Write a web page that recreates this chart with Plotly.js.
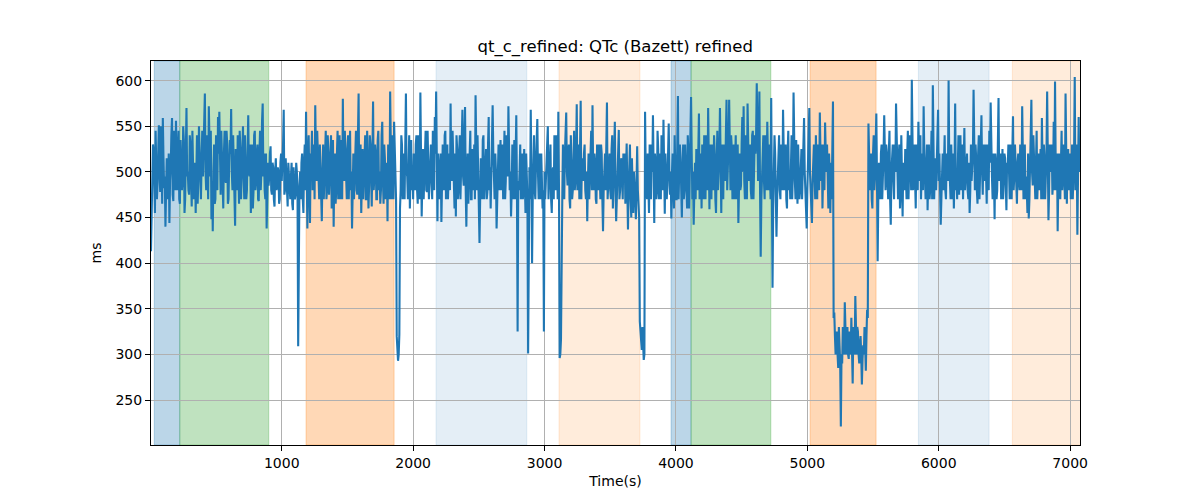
<!DOCTYPE html>
<html>
<head>
<meta charset="utf-8">
<script src="https://cdn.plot.ly/plotly-3.0.1.min.js"></script>
<style>
  html, body { margin: 0; padding: 0; background: #fff; }
  #chart { width: 1200px; height: 500px; }
</style>
</head>
<body>
<div id="chart"></div>
<script>
// sampling: main readings every 10 s from t = 5 s, plus in-between readings 5 s later
const t0 = 5;
const dt = 10;

// QTc (ms), main readings, 200 s rows
const qtc_0000_1995 = [
  413, 505, 525, 455, 520, 488, 551, 478, 532, 559, 482, 440, 515, 470, 444, 505, 559, 468, 520, 556,
  480, 545, 465, 510, 490, 535, 470, 570, 500, 475, 530, 462, 520, 485, 455, 540, 490, 525, 470, 545,
  520, 586, 480, 510, 572, 495, 448, 435, 530, 470, 505, 560, 566, 475, 520, 460, 545, 488, 530, 470,
  535, 569, 480, 515, 441, 500, 540, 465, 525, 490, 550, 470, 515, 480, 562, 495, 455, 530, 478, 545,
  490, 530, 468, 545, 500, 575, 520, 470, 438, 510, 495, 528, 475, 505, 462, 515, 485, 500, 470, 520,
  505, 568, 480, 500, 462, 495, 470, 510, 458, 490, 475, 500, 309, 485, 470, 520, 455, 530, 566, 438,
  540, 444, 510, 480, 530, 573, 490, 520, 470, 505, 446, 530, 495, 545, 480, 520, 500, 540, 470, 440,
  520, 480, 545, 500, 470, 535, 580, 490, 515, 470, 540, 505, 480, 438, 520, 490, 545, 475, 586, 500,
  455, 525, 490, 540, 470, 510, 485, 530, 462, 577, 495, 520, 470, 545, 500, 480, 555, 465, 515, 490,
  446, 510, 588, 470, 500, 555, 480, 320, 293, 322, 480, 530, 500, 470, 586, 495, 520, 460, 535, 505
];

const qtc_2005_3995 = [
  520, 480, 540, 465, 510, 587, 451, 525, 495, 545, 478, 515, 490, 530, 470, 520, 560, 588, 446, 505,
  500, 445, 530, 480, 545, 505, 470, 520, 575, 490, 515, 460, 451, 525, 480, 540, 500, 568, 485, 571,
  440, 520, 490, 545, 470, 510, 530, 584, 480, 500, 422, 515, 470, 540, 495, 525, 478, 560, 505, 490,
  573, 490, 520, 438, 510, 480, 535, 500, 470, 545, 490, 515, 572, 480, 451, 530, 500, 470, 562, 325,
  480, 530, 500, 470, 525, 455, 490, 301, 505, 568, 400, 520, 480, 510, 558, 470, 495, 520, 460, 325,
  470, 515, 550, 490, 530, 455, 505, 540, 480, 520, 566, 296, 316, 470, 500, 520, 565, 485, 530, 460,
  510, 480, 545, 490, 574, 500, 470, 578, 515, 490, 530, 470, 446, 520, 495, 545, 573, 480, 510, 465,
  500, 530, 470, 520, 435, 510, 480, 576, 495, 520, 470, 540, 490, 555, 446, 505, 546, 480, 515, 470,
  490, 465, 531, 437, 500, 470, 515, 455, 490, 448, 528, 470, 336, 310, 330, 294, 566, 480, 520, 455,
  500, 530, 562, 444, 510, 480, 525, 490, 470, 515, 557, 454, 500, 485, 553, 475, 449, 520, 460, 500
];

const qtc_4005_5995 = [
  470, 583, 490, 515, 450, 530, 480, 505, 460, 520, 490, 582, 470, 442, 510, 525, 480, 564, 495, 460,
  505, 540, 470, 515, 570, 459, 500, 530, 480, 520, 455, 545, 495, 570, 455, 510, 530, 490, 579, 500,
  579, 480, 525, 500, 470, 540, 495, 444, 520, 485, 560, 572, 470, 510, 575, 490, 530, 470, 545, 505,
  520, 597, 490, 588, 407, 500, 540, 470, 520, 555, 480, 510, 581, 373, 490, 520, 429, 500, 540, 470,
  510, 568, 480, 530, 460, 545, 500, 520, 470, 587, 490, 535, 465, 510, 480, 525, 500, 559, 485, 438,
  505, 570, 480, 444, 520, 495, 540, 470, 515, 565, 490, 460, 530, 554, 500, 480, 520, 455, 470, 577,
  346, 300, 325, 285, 310, 221, 290, 320, 357, 300, 330, 295, 315, 340, 268, 310, 364, 300, 325, 290,
  320, 267, 310, 330, 282, 349, 553, 480, 520, 460, 540, 495, 564, 402, 510, 470, 530, 490, 562, 480,
  520, 470, 545, 442, 510, 490, 530, 575, 480, 515, 460, 540, 451, 500, 525, 470, 545, 495, 520, 601,
  480, 530, 460, 510, 555, 490, 470, 520, 572, 485, 505, 458, 530, 480, 545, 595, 470, 515, 500, 568
];

const qtc_6005_7075 = [
  520, 442, 505, 480, 540, 470, 515, 600, 490, 530, 470, 460, 575, 495, 520, 475, 540, 500, 470, 548,
  490, 520, 470, 455, 530, 500, 590, 480, 515, 465, 540, 495, 562, 475, 510, 530, 465, 500, 545, 576,
  495, 520, 448, 510, 480, 581, 500, 470, 525, 490, 515, 458, 505, 480, 530, 470, 561, 495, 510, 465,
  520, 480, 505, 572, 470, 530, 495, 455, 449, 510, 579, 485, 520, 470, 545, 500, 480, 525, 559, 470,
  515, 490, 588, 447, 530, 500, 475, 555, 599, 480, 435, 520, 470, 545, 495, 510, 586, 465, 525, 485,
  470, 530, 490, 604, 500, 431, 560, 520
];

// QTc (ms), in-between readings (t = 10, 20, ... 7070 s), 200 s rows
const mid_0010_2000 = [
  470, 530, 490, 545, 470, 525, 500, 550, 465, 515, 495, 480, 500, 520, 490, 540, 475, 545, 480, 500,
  520, 470, 535, 480, 550, 455, 530, 495, 480, 540, 490, 545, 470, 510, 530, 465, 550, 480, 510, 495,
  550, 500, 540, 470, 520, 545, 490, 500, 465, 540, 480, 520, 500, 545, 470, 520, 495, 545, 465, 510,
  520, 500, 540, 470, 525, 480, 500, 545, 470, 530, 495, 540, 470, 545, 500, 530, 490, 460, 540, 480,
  520, 470, 520, 480, 555, 495, 480, 520, 470, 485, 520, 480, 510, 470, 500, 480, 505, 465, 510, 490,
  530, 475, 515, 470, 510, 480, 495, 465, 505, 470, 510, 480, 470, 500, 510, 470, 510, 480, 500, 520,
  480, 520, 545, 500, 470, 520, 545, 470, 530, 485, 500, 470, 540, 470, 540, 475, 520, 460, 535, 500,
  465, 520, 470, 540, 510, 470, 500, 545, 480, 525, 470, 545, 500, 490, 470, 530, 480, 540, 470, 530,
  500, 470, 530, 470, 545, 460, 540, 475, 520, 480, 530, 470, 535, 480, 465, 540, 490, 530, 470, 510,
  530, 470, 500, 540, 470, 520, 470, 305, 300, 460, 540, 470, 520, 540, 500, 470, 540, 500, 480, 470
];

const mid_2010_4000 = [
  500, 530, 480, 540, 470, 505, 490, 470, 530, 480, 545, 470, 510, 490, 545, 480, 520, 480, 520, 470,
  520, 480, 500, 540, 470, 530, 495, 480, 500, 545, 480, 520, 540, 470, 520, 470, 520, 495, 530, 480,
  495, 465, 530, 470, 525, 480, 470, 500, 540, 480, 470, 500, 535, 470, 520, 470, 530, 480, 460, 530,
  520, 470, 500, 470, 530, 500, 480, 530, 510, 470, 540, 495, 520, 500, 480, 470, 535, 520, 480, 490,
  500, 470, 520, 480, 500, 520, 470, 480, 470, 500, 470, 540, 470, 530, 500, 520, 470, 480, 480, 500,
  490, 540, 470, 520, 470, 500, 470, 510, 540, 470, 480, 300, 460, 530, 470, 545, 500, 520, 470, 540,
  470, 530, 480, 520, 480, 530, 510, 470, 500, 520, 480, 500, 490, 470, 540, 480, 500, 520, 470, 530,
  480, 500, 530, 470, 480, 520, 540, 470, 520, 480, 525, 460, 520, 480, 470, 530, 470, 510, 490, 520,
  520, 500, 480, 480, 530, 450, 490, 500, 470, 490, 480, 450, 320, 305, 315, 300, 500, 470, 490, 530,
  470, 500, 480, 520, 470, 545, 470, 520, 540, 480, 500, 520, 470, 530, 500, 500, 500, 480, 540, 470
];

const mid_4010_6000 = [
  520, 470, 530, 480, 500, 470, 530, 480, 540, 460, 530, 520, 500, 480, 470, 500, 520, 470, 520, 530,
  470, 500, 540, 480, 500, 530, 470, 510, 540, 470, 510, 480, 520, 480, 530, 470, 500, 540, 480, 530,
  520, 540, 470, 530, 510, 470, 530, 500, 480, 530, 500, 490, 540, 470, 500, 520, 480, 540, 470, 540,
  540, 520, 530, 480, 470, 520, 490, 540, 480, 510, 530, 470, 500, 460, 540, 480, 470, 520, 480, 530,
  480, 530, 500, 470, 520, 480, 470, 540, 500, 520, 470, 500, 530, 470, 520, 470, 530, 500, 470, 480,
  540, 500, 470, 490, 530, 470, 500, 530, 480, 520, 530, 500, 480, 520, 530, 460, 500, 510, 530, 340,
  320, 310, 300, 330, 290, 300, 330, 300, 330, 310, 300, 325, 300, 310, 330, 300, 320, 330, 300, 310,
  300, 295, 300, 310, 320, 340, 520, 500, 470, 520, 480, 530, 490, 470, 490, 520, 470, 520, 500, 530,
  490, 520, 470, 500, 530, 470, 500, 520, 470, 530, 480, 500, 510, 480, 470, 520, 470, 540, 480, 510,
  510, 490, 530, 480, 500, 540, 500, 480, 520, 470, 530, 490, 470, 510, 470, 530, 500, 480, 540, 490
];

const mid_6010_7070 = [
  490, 470, 520, 500, 480, 520, 490, 510, 470, 500, 520, 500, 480, 470, 540, 500, 480, 530, 510, 480,
  510, 480, 510, 480, 490, 520, 490, 530, 480, 520, 470, 520, 500, 530, 490, 470, 530, 480, 510, 500,
  470, 500, 520, 470, 530, 490, 520, 480, 470, 520, 480, 510, 530, 470, 500, 520, 480, 530, 480, 510,
  490, 530, 480, 500, 520, 470, 480, 520, 470, 530, 500, 540, 480, 510, 470, 520, 500, 470, 510, 530,
  470, 520, 500, 480, 510, 530, 490, 480, 510, 520, 490, 480, 510, 480, 530, 470, 500, 520, 480, 520,
  500, 470, 520, 480, 530, 490, 500
];

// annotated segments [start, end] in seconds, with their fill
const segStart = [30, 224, 1185, 2174, 3110, 3963, 4115, 5021, 5845, 6560];
const segEnd   = [224, 901, 1855, 2865, 3726, 4115, 4722, 5523, 6383, 7100];
const segColor = [
  'rgba(31,119,180,0.3)', 'rgba(44,160,44,0.3)', 'rgba(255,127,14,0.3)',
  'rgba(31,119,180,0.12)', 'rgba(255,127,14,0.15)',
  'rgba(31,119,180,0.3)', 'rgba(44,160,44,0.3)', 'rgba(255,127,14,0.3)',
  'rgba(31,119,180,0.12)', 'rgba(255,127,14,0.15)'
];

const xTicks = [1000, 2000, 3000, 4000, 5000, 6000, 7000];
const yTicks = [250, 300, 350, 400, 450, 500, 550, 600];

const qtcMain = qtc_0000_1995.concat(qtc_2005_3995, qtc_4005_5995, qtc_6005_7075);
const qtcMid = mid_0010_2000.concat(mid_2010_4000, mid_4010_6000, mid_6010_7070);

// merge both sets of readings in time order
const time = [];
const qtc = [];
qtcMain.forEach((v, i) => {
  time.push(t0 + i * dt);
  qtc.push(v);
  if (i < qtcMid.length) {
    time.push(t0 + i * dt + dt / 2);
    qtc.push(qtcMid[i]);
  }
});

const shapes = segStart.map((s, i) => ({
  type: 'rect', xref: 'x', yref: 'paper',
  x0: s, x1: segEnd[i], y0: 0, y1: 1,
  fillcolor: segColor[i],
  line: { color: segColor[i], width: 1 },
  layer: 'between'
}));

const font = { family: 'DejaVu Sans, sans-serif', size: 14, color: '#000' };

const axisCommon = {
  showline: true, mirror: true, linecolor: '#000', linewidth: 1,
  ticks: 'outside', ticklen: 5, tickwidth: 1, tickcolor: '#000',
  showgrid: true, gridcolor: '#b0b0b0', gridwidth: 1,
  zeroline: false, tickfont: font
};

const data = [{
  x: time, y: qtc,
  type: 'scatter', mode: 'lines',
  line: { color: '#1f77b4', width: 2.1 },
  hoverinfo: 'x+y'
}];

const layout = {
  width: 1200, height: 500,
  paper_bgcolor: '#fff', plot_bgcolor: '#fff',
  margin: { l: 151, r: 120, t: 61, b: 55 },
  font: font,
  showlegend: false,
  title: {
    text: 'qt_c_refined: QTc (Bazett) refined',
    font: { family: 'DejaVu Sans, sans-serif', size: 16.5, color: '#000' },
    x: 0.5127, xanchor: 'center', y: 0.908, yanchor: 'middle'
  },
  xaxis: Object.assign({}, axisCommon, {
    range: [5, 7075], tickvals: xTicks,
    title: { text: 'Time(s)', font: font, standoff: 6 }
  }),
  yaxis: Object.assign({}, axisCommon, {
    range: [200.7, 621.5], tickvals: yTicks,
    title: { text: 'ms', font: font, standoff: 10 }
  }),
  shapes: shapes
};

Plotly.newPlot('chart', data, layout, { staticPlot: true, displayModeBar: false });
</script>
</body>
</html>
